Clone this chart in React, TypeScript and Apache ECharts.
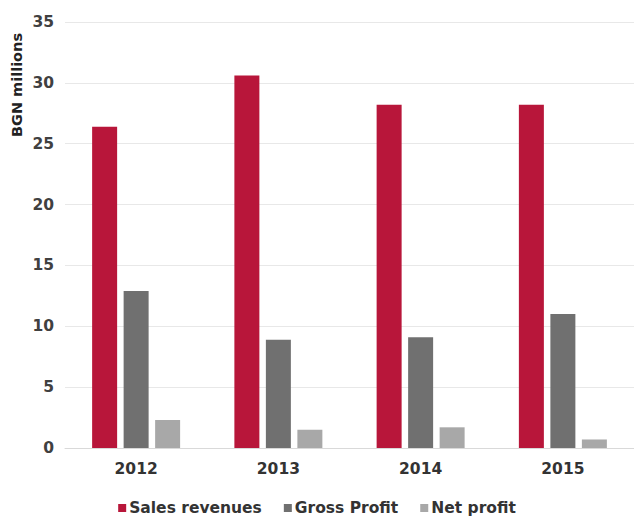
import React, { useEffect, useRef } from "react";
import * as echarts from "echarts";

const categories = ["2012", "2013", "2014", "2015"];
const salesRevenues = [26.4, 30.6, 28.2, 28.2];
const grossProfit = [12.9, 8.9, 9.1, 11.0];
const netProfit = [2.3, 1.5, 1.7, 0.7];
const seriesNames = ["Sales revenues", "Gross Profit", "Net profit"];
const yTitle = "BGN millions";

export default function App() {
  const ref = useRef<HTMLDivElement>(null);
  useEffect(() => {
    document.body.style.margin = "0";
    const chart = echarts.init(ref.current!, null, { renderer: "svg" });
    const font = "DejaVu Sans";
    chart.setOption({
      animation: false,
      backgroundColor: "#ffffff",
      textStyle: { fontFamily: font },
      grid: { left: 65, right: 0, top: 22, bottom: 77, containLabel: false },
      legend: {
        top: 495,
        left: "center",
        itemWidth: 8,
        itemHeight: 8,
        itemGap: 22,
        icon: "rect",
        textStyle: { fontFamily: font, fontSize: 15.5, fontWeight: "bold", color: "#333333", padding: [0, 0, 0, -2] },
        data: seriesNames,
      },
      xAxis: {
        type: "category",
        data: categories,
        axisLine: { lineStyle: { color: "#d9d9d9", width: 1 } },
        axisTick: { show: false },
        axisLabel: { fontFamily: font, fontSize: 15.5, fontWeight: "bold", color: "#333333", margin: 13 },
      },
      yAxis: {
        type: "value",
        min: 0,
        max: 35,
        interval: 5,
        axisLine: { show: false },
        axisTick: { show: false },
        axisLabel: { fontFamily: font, fontSize: 15.5, fontWeight: "bold", color: "#404040", margin: 11 },
        splitLine: { lineStyle: { color: "#e8e8e8", width: 1 } },
      },
      graphic: [
        {
          type: "text",
          x: 17,
          y: 85,
          rotation: Math.PI / 2,
          style: {
            text: yTitle,
            fontFamily: font,
            fontSize: 14.5,
            fontWeight: "bold",
            fill: "#222222",
            align: "center",
            verticalAlign: "middle",
          },
        },
      ],
      series: [
        { name: seriesNames[0], type: "bar", data: salesRevenues, barWidth: 25, barGap: "26%", itemStyle: { color: "#b8163a" } },
        { name: seriesNames[1], type: "bar", data: grossProfit, barWidth: 25, barGap: "26%", itemStyle: { color: "#707070" } },
        { name: seriesNames[2], type: "bar", data: netProfit, barWidth: 25, barGap: "26%", itemStyle: { color: "#a8a8a8" } },
      ],
    });
    return () => chart.dispose();
  }, []);
  return <div ref={ref} style={{ width: 634, height: 525 }} />;
}
